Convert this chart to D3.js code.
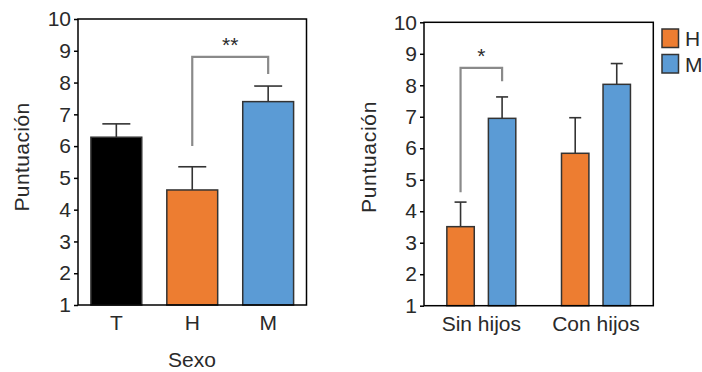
<!DOCTYPE html>
<html><head><meta charset="utf-8">
<script src="https://cdn.jsdelivr.net/npm/d3@7"></script>
<style>
html,body{margin:0;padding:0;background:#fff;}
svg{display:block;font-family:"Liberation Sans",Arial,Helvetica,sans-serif;}
</style></head>
<body>
<svg id="c" width="702" height="372"></svg>
<script>
// ---- Data ----
const yTicks = [1,2,3,4,5,6,7,8,9,10];
// Left panel
const sexCategories = ["T","H","M"];
const sexMeans = [6.28, 4.62, 7.40];
const sexErrors = [0.42, 0.73, 0.49];
const sexColors = ["#000000","#ED7D31","#5B9BD5"];
// Right panel
const childCategories = ["Sin hijos","Con hijos"];
const seriesNames = ["H","M"];
const seriesColors = ["#ED7D31","#5B9BD5"];
const hMeans = [3.51, 5.84];
const hErrors = [0.78, 1.13];
const mMeans = [6.95, 8.03];
const mErrors = [0.68, 0.66];
const yLabel = "Puntuación";
const xLabelLeft = "Sexo";
const sigLeft = "**";
const sigRight = "*";

const svg = d3.select("#c");
const FS = 21;
const barStroke = "#333";
const bracketColor = "#8a8a8a";
const textColor = "#2a2a2a";

function frame(g, x0, x1, y) {
  g.append("rect").attr("x", x0).attr("y", y.range()[1])
   .attr("width", x1 - x0).attr("height", y.range()[0] - y.range()[1])
   .attr("fill", "none").attr("stroke", "#000").attr("stroke-width", 1.5);
  const ax = g.append("g").attr("transform", `translate(${x0},0)`)
    .call(d3.axisLeft(y).tickValues(yTicks).tickSize(4).tickPadding(3).tickFormat(d3.format("d")));
  ax.select(".domain").remove();
  ax.selectAll("line").attr("stroke", "#000").attr("stroke-width", 1.5);
  ax.selectAll("text").attr("font-size", FS).attr("fill", textColor)
    .attr("font-family", "Liberation Sans, Arial, sans-serif");
}

// ---- Left panel ----
{
  const x0 = 78, x1 = 306.5;
  const y = d3.scaleLinear().domain([1, 10]).range([305, 19]);
  const x = d3.scaleBand().domain(sexCategories).range([x0, x1]).paddingInner(0.33).paddingOuter(0.17);
  const g = svg.append("g");
  const data = sexCategories.map((c, i) => ({c, v: sexMeans[i], e: sexErrors[i], col: sexColors[i]}));
  g.selectAll(".eb").data(data).enter().append("line")
    .attr("x1", d => x(d.c) + x.bandwidth()/2).attr("x2", d => x(d.c) + x.bandwidth()/2)
    .attr("y1", d => y(d.v)).attr("y2", d => y(d.v + d.e))
    .attr("stroke", barStroke).attr("stroke-width", 1.6);
  g.selectAll(".cap").data(data).enter().append("line")
    .attr("x1", d => x(d.c) + x.bandwidth()/2 - 14).attr("x2", d => x(d.c) + x.bandwidth()/2 + 14)
    .attr("y1", d => y(d.v + d.e)).attr("y2", d => y(d.v + d.e))
    .attr("stroke", barStroke).attr("stroke-width", 1.6);
  g.selectAll(".bar").data(data).enter().append("rect")
    .attr("x", d => x(d.c)).attr("width", x.bandwidth())
    .attr("y", d => y(d.v)).attr("height", d => y(1) - y(d.v))
    .attr("fill", d => d.col).attr("stroke", barStroke).attr("stroke-width", 1.5);
  frame(g, x0, x1, y);
  g.selectAll(".xl").data(sexCategories).enter().append("text")
    .attr("x", d => x(d) + x.bandwidth()/2).attr("y", 330)
    .attr("text-anchor", "middle").attr("font-size", FS).attr("fill", textColor).text(d => d);
  g.append("text").attr("x", 192).attr("y", 367).attr("text-anchor", "middle")
    .attr("font-size", FS).attr("fill", textColor).text(xLabelLeft);
  g.append("text").attr("transform", "translate(29,157) rotate(-90)")
    .attr("text-anchor", "middle").attr("font-size", FS).attr("letter-spacing", 0.4).attr("fill", textColor).text(yLabel);
  const cx1 = x("H") + x.bandwidth()/2, cx2 = x("M") + x.bandwidth()/2;
  const yb = y(8.81);
  g.append("path").attr("d", `M${cx1},${y(6.0)}V${yb}H${cx2}V${y(8.27)}`)
    .attr("fill", "none").attr("stroke", bracketColor).attr("stroke-width", 2.2);
  g.append("text").attr("x", (cx1 + cx2)/2).attr("y", yb - 5).attr("text-anchor", "middle")
    .attr("font-size", 21).attr("fill", textColor).text(sigLeft);
}

// ---- Right panel ----
{
  const x0 = 424, x1 = 653.3;
  const y = d3.scaleLinear().domain([1, 10]).range([305.7, 22.3]);
  const x = d3.scaleBand().domain(childCategories).range([x0, x1]).padding(0);
  const xs = d3.scaleBand().domain(seriesNames).range([0, x.bandwidth()]).paddingInner(0.34).paddingOuter(0.55);
  const g = svg.append("g");
  const data = [];
  childCategories.forEach((c, i) => {
    data.push({c, s: "H", v: hMeans[i], e: hErrors[i], col: seriesColors[0]});
    data.push({c, s: "M", v: mMeans[i], e: mErrors[i], col: seriesColors[1]});
  });
  const cx = d => x(d.c) + xs(d.s) + xs.bandwidth()/2;
  g.selectAll(".eb").data(data).enter().append("line")
    .attr("x1", cx).attr("x2", cx)
    .attr("y1", d => y(d.v)).attr("y2", d => y(d.v + d.e))
    .attr("stroke", barStroke).attr("stroke-width", 1.6);
  g.selectAll(".cap").data(data).enter().append("line")
    .attr("x1", d => cx(d) - 6).attr("x2", d => cx(d) + 6)
    .attr("y1", d => y(d.v + d.e)).attr("y2", d => y(d.v + d.e))
    .attr("stroke", barStroke).attr("stroke-width", 1.6);
  g.selectAll(".bar").data(data).enter().append("rect")
    .attr("x", d => x(d.c) + xs(d.s)).attr("width", xs.bandwidth())
    .attr("y", d => y(d.v)).attr("height", d => y(1) - y(d.v))
    .attr("fill", d => d.col).attr("stroke", barStroke).attr("stroke-width", 1.5);
  frame(g, x0, x1, y);
  g.selectAll(".xl").data(childCategories).enter().append("text")
    .attr("x", d => x(d) + x.bandwidth()/2).attr("y", 331)
    .attr("text-anchor", "middle").attr("font-size", FS).attr("fill", textColor).text(d => d);
  g.append("text").attr("transform", "translate(376,157) rotate(-90)")
    .attr("text-anchor", "middle").attr("font-size", FS).attr("letter-spacing", 0.7).attr("fill", textColor).text(yLabel);
  const c1 = x("Sin hijos") + xs("H") + xs.bandwidth()/2;
  const c2 = x("Sin hijos") + xs("M") + xs.bandwidth()/2;
  const yb = y(8.55);
  g.append("path").attr("d", `M${c1},${y(4.6)}V${yb}H${c2}V${y(8.13)}`)
    .attr("fill", "none").attr("stroke", bracketColor).attr("stroke-width", 2.2);
  g.append("text").attr("x", (c1 + c2)/2).attr("y", yb - 5).attr("text-anchor", "middle")
    .attr("font-size", 21).attr("fill", textColor).text(sigRight);
  const lg = g.append("g").attr("transform", "translate(662,29)");
  seriesNames.forEach((s, i) => {
    lg.append("rect").attr("x", 0).attr("y", i * 25.5).attr("width", 16.5).attr("height", 18.5)
      .attr("fill", seriesColors[i]).attr("stroke", barStroke).attr("stroke-width", 1.5);
    lg.append("text").attr("x", 23).attr("y", i * 25.5 + 17).attr("font-size", FS).attr("fill", textColor).text(s);
  });
}
</script>
</body></html>
